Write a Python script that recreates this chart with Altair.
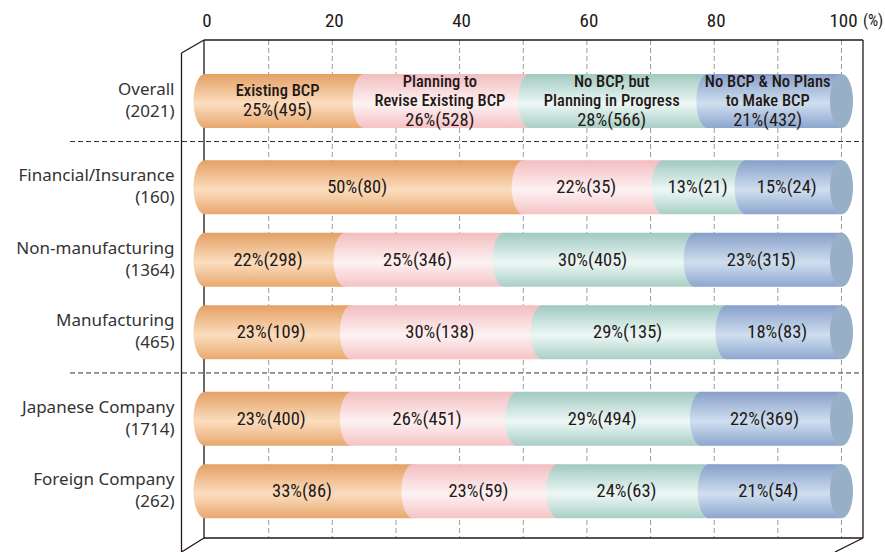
import altair as alt
import pandas as pd

# ---- data -------------------------------------------------------------
categories = ["Overall", "Financial/Insurance", "Non-manufacturing",
              "Manufacturing", "Japanese Company", "Foreign Company"]
respondents = [2021, 160, 1364, 465, 1714, 262]
row_groups = [0, 1, 1, 1, 2, 2]

series = ["Existing BCP", "Planning to Revise Existing BCP",
          "No BCP, but Planning in Progress", "No BCP & No Plans to Make BCP"]
series_lines = [["Existing BCP"],
                ["Planning to", "Revise Existing BCP"],
                ["No BCP, but", "Planning in Progress"],
                ["No BCP & No Plans", "to Make BCP"]]

pct_existing = [25, 50, 22, 23, 23, 33]
pct_revise = [26, 22, 25, 30, 26, 23]
pct_progress = [28, 13, 30, 29, 29, 24]
pct_noplan = [21, 15, 23, 18, 22, 21]

n_existing = [495, 80, 298, 109, 400, 86]
n_revise = [528, 35, 346, 138, 451, 59]
n_progress = [566, 21, 405, 135, 494, 63]
n_noplan = [432, 24, 315, 83, 369, 54]

tick_values = [0, 20, 40, 60, 80, 100]
grid_values = [10, 20, 30, 40, 50, 60, 70, 80, 90, 100]

# ---- styling ----------------------------------------------------------
INK = "#231815"
TEXT = "#333333"
NUM_FONT = "Roboto Condensed, Liberation Sans Narrow, DejaVu Sans Condensed, Roboto, sans-serif"
ROW_FONT = "Noto Sans, sans-serif"

ROW_STEP = 74.0      # px between neighbouring rows
GROUP_GAP = 0.19     # extra spacing between row groups (in row steps)
BAR_PX = 54          # cylinder thickness
LINE_PX = 19.5       # line height of labels inside the bars
ROW_LINE_PX = 22     # line height of the row labels
CAP_HALF = 11.5      # half width of the elliptical cylinder faces

# x: 0 -> 205px, 100% -> 841.5px ; y: first row centre at 57px below plot top
X_PX0, X_PX1 = 205.0, 841.5
X_UNIT = X_PX1 - X_PX0
X_DOMAIN = [-X_PX0 / X_UNIT, (885 - X_PX0) / X_UNIT]
PLOT_H = 512
Y0 = 57.0
Y_DOMAIN = [-Y0 / ROW_STEP, (PLOT_H - Y0) / ROW_STEP]

palette = {
    "Existing BCP": ("#E4A063", "#FBDDBF", "#E8A86E"),
    "Planning to Revise Existing BCP": ("#F3BDBF", "#FDF2F3", "#F5C3C5"),
    "No BCP, but Planning in Progress": ("#A0C9BF", "#EDF8F6", "#A9CFC6"),
    "No BCP & No Plans to Make BCP": ("#879FCA", "#CFDFEF", "#8DA6CF"),
}
END_FACE = "#97AFC7"


def cylinder_fill(name):
    top, mid, bottom = palette[name]
    return alt.Gradient(
        gradient="linear", x1=0, x2=0, y1=0, y2=1,
        stops=[alt.GradientStop(color=top, offset=0),
               alt.GradientStop(color=mid, offset=0.55),
               alt.GradientStop(color=bottom, offset=1)],
    )


# elliptical face of the cylinder, path in [-1, 1] units scaled by sqrt(size)/2
a = CAP_HALF / (BAR_PX / 2)
k = 0.5523 * a
ELLIPSE = (f"M0,-1C{k:.4f},-1 {a:.4f},-0.5523 {a:.4f},0"
           f"C{a:.4f},0.5523 {k:.4f},1 0,1"
           f"C{-k:.4f},1 {-a:.4f},0.5523 {-a:.4f},0"
           f"C{-a:.4f},-0.5523 {-k:.4f},-1 0,-1Z")

# ---- tables -----------------------------------------------------------
row_pos = [i + GROUP_GAP * g for i, g in enumerate(row_groups)]
rows = pd.DataFrame({
    "category": categories,
    "pos": row_pos,
    "count_label": [f"({n})" for n in respondents],
})

pct_table = [pct_existing, pct_revise, pct_progress, pct_noplan]
n_table = [n_existing, n_revise, n_progress, n_noplan]
records = []
for s_idx, s in enumerate(series):
    for r_idx, c in enumerate(categories):
        # the first row also carries the series name above its value
        lines = series_lines[s_idx] if r_idx == 0 else []
        total = len(lines) + 1
        offs = [(i - (total - 1) / 2) * LINE_PX / ROW_STEP for i in range(total)]
        rec = {
            "category": c,
            "series": s,
            "order": s_idx,
            "pct": pct_table[s_idx][r_idx],
            "n": n_table[s_idx][r_idx],
            "pos": row_pos[r_idx],
            "label": f"{pct_table[s_idx][r_idx]}%({n_table[s_idx][r_idx]})",
            "label_pos": row_pos[r_idx] + offs[-1],
        }
        for i in range(2):
            rec[f"line{i}"] = lines[i] if i < len(lines) else ""
            rec[f"line{i}_pos"] = row_pos[r_idx] + (offs[i] if i < len(lines) else 0)
        records.append(rec)
segments = pd.DataFrame(records)

seps = []
for r in range(1, len(categories)):
    if row_groups[r] != row_groups[r - 1]:
        seps.append((row_pos[r] + row_pos[r - 1]) / 2 - 0.035)
separators = pd.DataFrame({"pos": seps})
grid = pd.DataFrame({"v": [g / 100 for g in grid_values]})
ticks = pd.DataFrame({"v": [t / 100 for t in tick_values],
                      "t": [str(t) for t in tick_values]})
one = pd.DataFrame({"k": [0]})

xs = alt.Scale(domain=X_DOMAIN, nice=False, zero=False)
ys = alt.Scale(domain=Y_DOMAIN, nice=False, zero=False, reverse=True)

# ---- layers -----------------------------------------------------------
gridlines = alt.Chart(grid).mark_rule(
    color="#9C9C9C", strokeWidth=1, strokeDash=[5, 3]
).encode(
    x=alt.X("v:Q", scale=xs, axis=None),
    y=alt.value(0), y2=alt.value(498),
)

tick_labels = alt.Chart(ticks).mark_text(
    font=NUM_FONT, fontSize=19, color=INK, baseline="middle", dx=2
).encode(x=alt.X("v:Q", scale=xs, axis=None), y=alt.value(-19), text="t:N")

pct_unit = alt.Chart(one).mark_text(
    text="(%)", font=NUM_FONT, fontSize=16, color=INK, baseline="middle"
).encode(x=alt.value(873), y=alt.value(-19))

sep_rules = alt.Chart(separators).mark_rule(
    color=TEXT, strokeWidth=1, strokeDash=[5, 3]
).encode(y=alt.Y("pos:Q", scale=ys, axis=None), x=alt.value(70), x2=alt.value(863))


def frame(x1, y1, x2, y2):
    return alt.Chart(one).mark_rule(color=INK, strokeWidth=1.3).encode(
        x=alt.value(x1), y=alt.value(y1), x2=alt.value(x2), y2=alt.value(y2))


frames = [
    frame(204, 0, 863, 0), frame(204, 0, 204, 498), frame(863, 0, 863, 498),
    frame(204, 498, 863, 498), frame(181.5, 13, 204, 0),
    frame(181.5, 13, 181.5, 512), frame(181.5, 512, 204, 498),
    frame(863, 498, 835, 512),
]

stacked = alt.Chart(segments).transform_stack(
    stack="pct", groupby=["category"], offset="normalize",
    sort=[alt.SortField("order", order="ascending")], as_=["x0", "x1"],
).transform_calculate(mid="(datum.x0 + datum.x1) / 2")

cylinder = []
for s in series:
    part = stacked.transform_filter(alt.datum.series == s)
    body = part.mark_bar(size=BAR_PX, orient="horizontal", fill=cylinder_fill(s),
                         strokeWidth=0).encode(
        x=alt.X("x0:Q", scale=xs, axis=None), x2="x1:Q",
        y=alt.Y("pos:Q", scale=ys, axis=None))
    face = part.mark_point(shape=ELLIPSE, size=BAR_PX ** 2, filled=True,
                           fill=cylinder_fill(s), strokeWidth=0, opacity=1).encode(
        x=alt.X("x0:Q", scale=xs, axis=None),
        y=alt.Y("pos:Q", scale=ys, axis=None))
    cylinder += [body, face]

# flat end face of every cylinder at the 100% end
end_faces = alt.Chart(rows).transform_calculate(end="1").mark_point(
    shape=ELLIPSE, size=BAR_PX ** 2, filled=True, fill=END_FACE,
    strokeWidth=0, opacity=1
).encode(x=alt.X("end:Q", scale=xs, axis=None),
         y=alt.Y("pos:Q", scale=ys, axis=None))


def in_bar_text(chart, field, y_field, size, weight):
    return chart.mark_text(
        font=NUM_FONT, fontSize=size, fontWeight=weight, fill=INK,
        baseline="middle", dx=-7
    ).encode(x=alt.X("mid:Q", scale=xs, axis=None),
             y=alt.Y(f"{y_field}:Q", scale=ys, axis=None),
             text=f"{field}:N")


value_labels = in_bar_text(stacked, "label", "label_pos", 18.5, "normal")
name_labels = [
    in_bar_text(stacked.transform_filter(alt.datum[f"line{i}"] != ""),
                f"line{i}", f"line{i}_pos", 16.5, 500)
    for i in range(2)
]


def row_text(field, dy):
    return alt.Chart(rows).mark_text(
        align="right", baseline="middle", font=ROW_FONT, fontSize=17,
        color=TEXT, dy=dy
    ).encode(x=alt.value(174.5), y=alt.Y("pos:Q", scale=ys, axis=None),
             text=f"{field}:N")


row_labels = [row_text("category", -ROW_LINE_PX / 2),
              row_text("count_label", ROW_LINE_PX / 2)]

chart = alt.layer(
    gridlines, tick_labels, pct_unit, sep_rules, *frames, *cylinder, end_faces,
    value_labels, *name_labels, *row_labels,
).properties(
    width=885, height=PLOT_H,
    autosize=alt.AutoSizeParams(type="none"),
    padding={"left": 0, "top": 40, "right": 0, "bottom": 0},
    background="white",
).configure_view(strokeWidth=0)

chart.save("out.html", embed_options={"renderer": "svg", "actions": False})
